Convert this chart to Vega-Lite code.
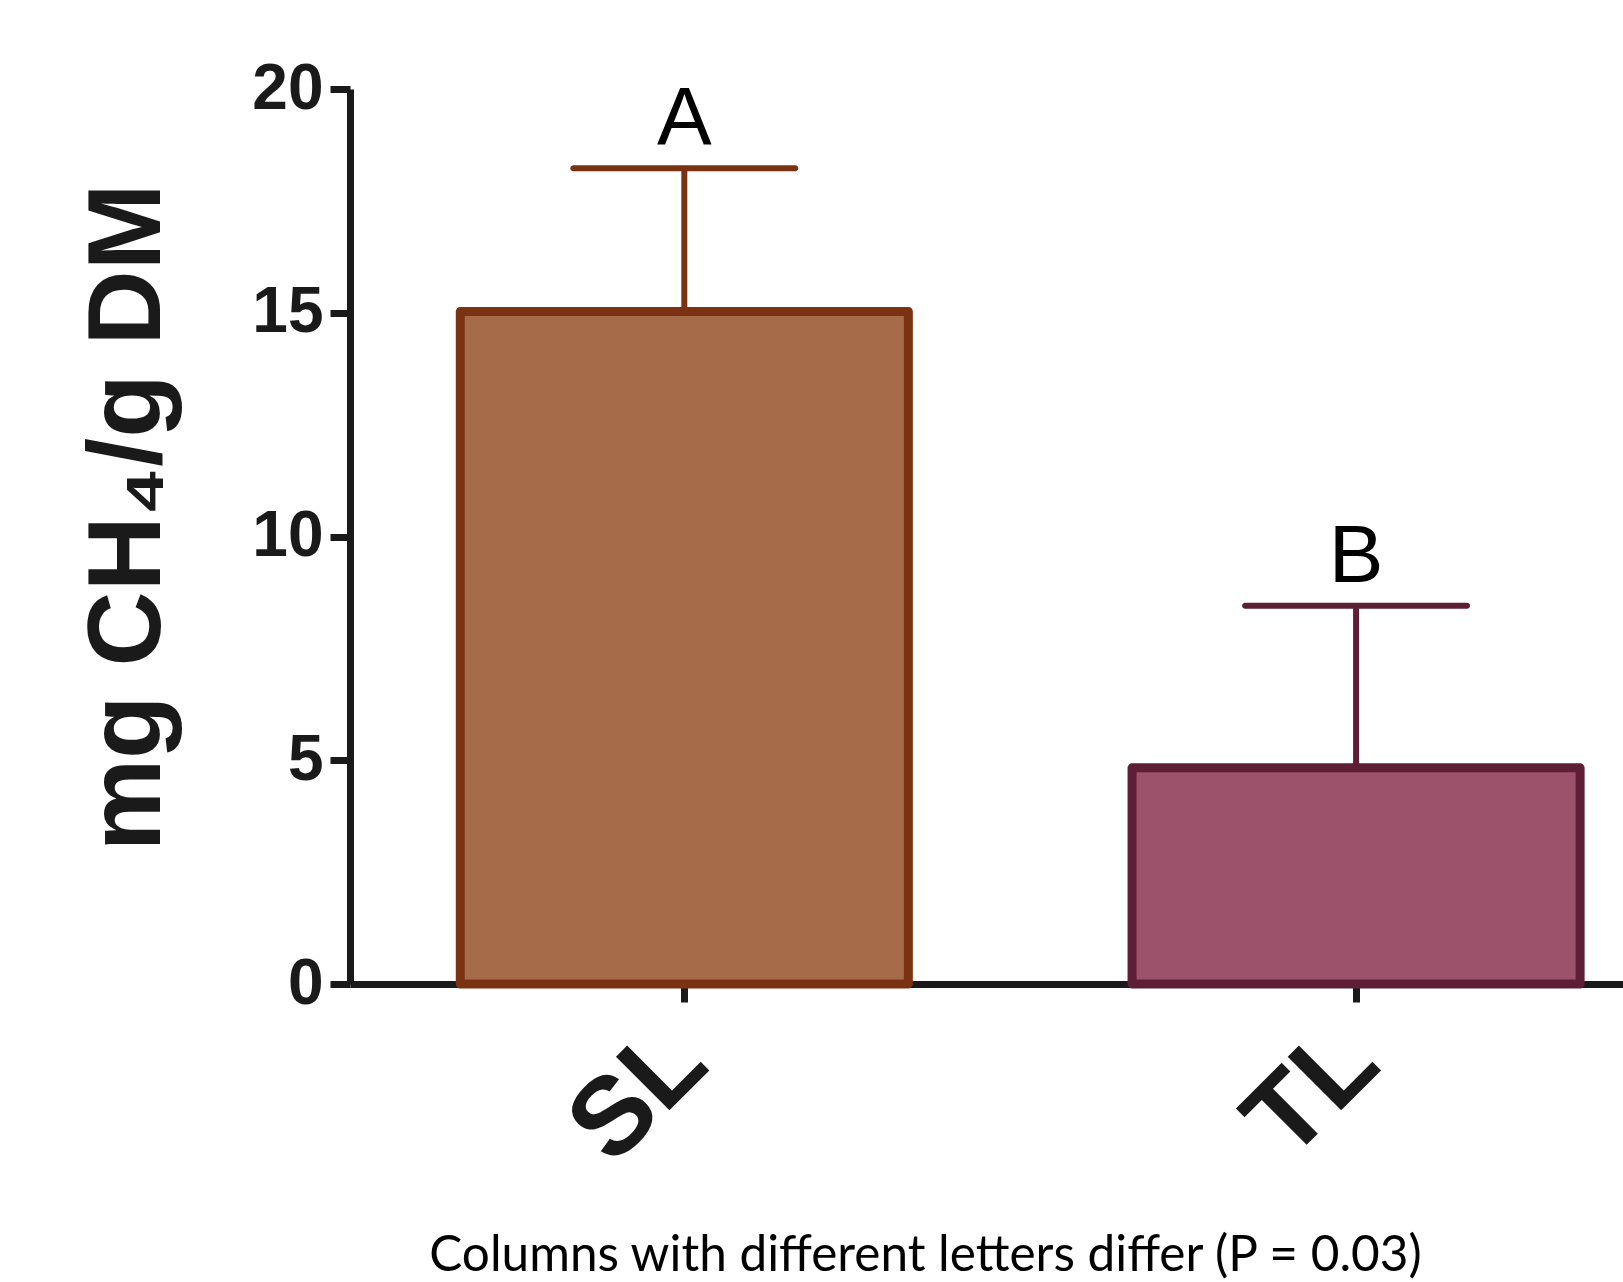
{
  "$schema": "https://vega.github.io/schema/vega-lite/v6.json",
  "width": 1273,
  "height": 895,
  "autosize": {"type": "none"},
  "padding": {"left": 350, "top": 89, "right": 0, "bottom": 298},
  "background": "white",
  "config": {"view": {"stroke": null}},
  "data": {
    "values": [
      {"group": "SL", "mean": 15.03, "upper": 18.23, "letter": "A"},
      {"group": "TL", "mean": 4.83, "upper": 8.45, "letter": "B"}
    ]
  },
  "encoding": {
    "x": {
      "field": "group",
      "type": "nominal",
      "sort": ["SL", "TL"],
      "scale": {"paddingInner": 0.333, "paddingOuter": 0.114, "align": 0.72},
      "axis": {
        "labelAngle": -45,
        "labelFont": "Liberation Sans",
        "labelFontWeight": "bold",
        "labelFontSize": 110,
        "labelColor": "#1a1a1a",
        "labelPadding": 4,
        "labelOffset": -34,
        "tickSize": 18,
        "tickWidth": 7,
        "tickColor": "#1a1a1a",
        "domainColor": "#1a1a1a",
        "domainWidth": 7,
        "title": "Columns with different letters differ (P = 0.03)",
        "titleFont": "Lato",
        "titleFontSize": 49.5,
        "titleFontWeight": "normal",
        "titleColor": "#000000",
        "titleX": 575,
        "titleY": 286,
        "titleBaseline": "alphabetic",
        "titleAlign": "center"
      }
    }
  },
  "layer": [
    {
      "mark": {"type": "bar", "strokeWidth": 9, "strokeJoin": "round"},
      "encoding": {
        "y": {
          "field": "mean",
          "type": "quantitative",
          "scale": {"domain": [0, 20], "nice": false},
          "axis": {
            "values": [0, 5, 10, 15, 20],
            "grid": false,
            "labelFont": "Liberation Sans",
            "labelFontWeight": "bold",
            "labelFontSize": 64,
            "labelColor": "#1a1a1a",
            "labelPadding": 7,
            "tickSize": 20,
            "tickWidth": 7,
            "tickColor": "#1a1a1a",
            "domainColor": "#1a1a1a",
            "domainWidth": 7,
            "title": "mg CH₄/g DM",
            "titleFont": "Liberation Sans",
            "titleFontWeight": "bold",
            "titleFontSize": 104,
            "titleColor": "#1a1a1a",
            "titleX": -191,
            "titleY": 428,
            "titleBaseline": "alphabetic",
            "titleAlign": "center",
            "titleAngle": -90
          }
        },
        "fill": {"field": "group", "type": "nominal", "scale": {"domain": ["SL", "TL"], "range": ["#A66C4A", "#9C526B"]}, "legend": null},
        "stroke": {"field": "group", "type": "nominal", "scale": {"domain": ["SL", "TL"], "range": ["#7A3213", "#5E1F36"]}, "legend": null}
      }
    },
    {
      "mark": {"type": "rule", "strokeWidth": 6},
      "encoding": {
        "y": {"field": "mean", "type": "quantitative"},
        "y2": {"field": "upper"},
        "stroke": {"field": "group", "type": "nominal", "legend": null}
      }
    },
    {
      "mark": {"type": "tick", "size": 228, "thickness": 6, "cornerRadius": 3, "opacity": 1},
      "encoding": {
        "y": {"field": "upper", "type": "quantitative"},
        "color": {"field": "group", "type": "nominal", "scale": {"domain": ["SL", "TL"], "range": ["#7A3213", "#5E1F36"]}, "legend": null}
      }
    },
    {
      "mark": {"type": "text", "font": "Liberation Sans", "fontSize": 82, "dy": -24, "baseline": "alphabetic", "color": "#000000"},
      "encoding": {
        "y": {"field": "upper", "type": "quantitative"},
        "text": {"field": "letter"}
      }
    }
  ]
}
